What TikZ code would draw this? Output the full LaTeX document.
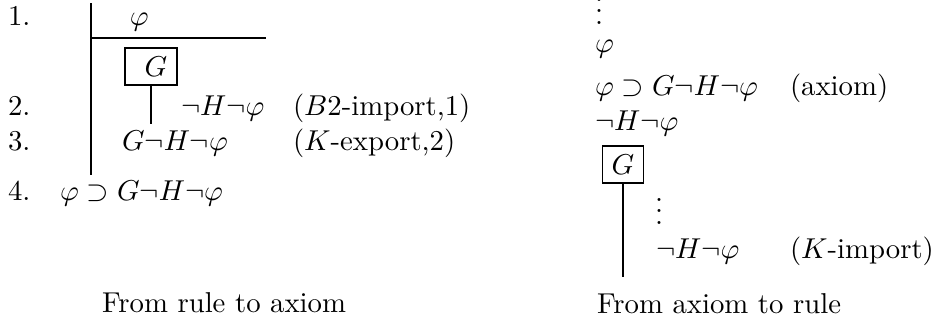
\documentclass[tikz,border=0pt]{standalone}
\newcommand{\myvdots}{\vbox{\baselineskip4pt\lineskiplimit0pt\hbox{.}\hbox{.}\hbox{.}}}
\begin{document}
\begin{tikzpicture}[x=0.348pt,y=-0.348pt,
  txt/.style={anchor=base west,inner sep=0pt,outer sep=0pt},
  mbox/.style={draw,line width=0.6pt,inner sep=0pt,minimum height=12.9pt},
  bar/.style={line width=1pt},
  thin bar/.style={line width=0.7pt}]
\useasboundingbox (0,0) rectangle (939,326);
% ---------------- left: from rule to axiom
\node[txt] (n1) at (8,25) {1.};
\node[txt] (n2) at (8,115) {2.};
\node[txt] (n3) at (8,150) {3.};
\node[txt] (n4) at (8,200) {4.};
\coordinate (ltop) at (91,3);
\coordinate (lbot) at (91,175);
\coordinate (hl) at (91,38);
\coordinate (hr) at (266,38);
\draw[bar] (ltop) -- (lbot);
\draw[thin bar] (hl) -- (hr);
\node[txt] (lphi) at (130,25) {$\varphi$};
\node[mbox,minimum width=18.1pt] (lbox) at (151,66.5) {\hspace{3.4pt}$G$};
\coordinate (lsub) at (151,124);
\draw[thin bar] (lbox.south) -- (lsub);
\node[txt] (l2) at (181,115) {$\neg H\neg\varphi$};
\node[txt] (l2r) at (293,115) {($B2$-import,1)};
\node[txt] (l3) at (122,150) {$G\neg H\neg\varphi$};
\node[txt] (l3r) at (293,150) {($K$-export,2)};
\node[txt] (l4) at (60,200) {$\varphi\supset G\neg H\neg\varphi$};
\node[txt] (lcap) at (102,312) {From rule to axiom};
% ---------------- right: from axiom to rule
\node[txt] (rdots) at (595,24) {\myvdots};
\node[txt] (rphi) at (595,52) {$\varphi$};
\node[txt] (rax) at (595,95) {$\varphi\supset G\neg H\neg\varphi$};
\node[txt] (raxr) at (790,95) {(axiom)};
\node[txt] (rnh) at (595,130) {$\neg H\neg\varphi$};
\node[mbox,minimum width=14.3pt] (rbox) at (623,164.5) {$G$};
\coordinate (rsub) at (623,277);
\draw[line width=0.9pt] (rbox.south) -- (rsub);
\node[txt] (rdots2) at (655,224) {\myvdots};
\node[txt] (rnh2) at (656,258) {$\neg H\neg\varphi$};
\node[txt] (rnh2r) at (790,258) {($K$-import)};
\node[txt] (rcap) at (597,313) {From axiom to rule};
\end{tikzpicture}
\end{document}
